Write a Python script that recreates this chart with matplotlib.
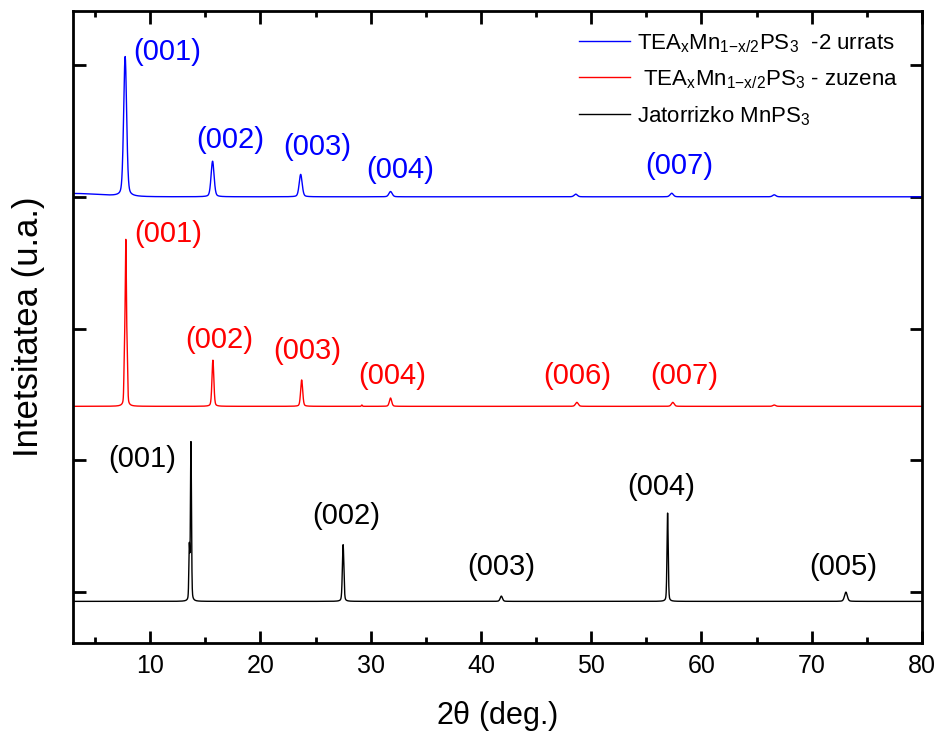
import numpy as np
import matplotlib
matplotlib.use('Agg')
from matplotlib import pyplot as plt
from matplotlib.ticker import MultipleLocator

plt.rcParams['font.family'] = ['Liberation Sans', 'DejaVu Sans']
plt.rcParams['mathtext.fontset'] = 'custom'
plt.rcParams['mathtext.rm'] = 'Liberation Sans'
plt.rcParams['mathtext.default'] = 'regular'

# peak lists: 2theta position, height above baseline, fwhm (deg)
blue_pos = [7.73, 15.66, 23.65, 31.8, 48.6, 57.3, 66.6]
blue_amp = [1.06, 0.27, 0.17, 0.04, 0.02, 0.027, 0.015]
blue_fwhm = [0.32, 0.32, 0.32, 0.35, 0.35, 0.35, 0.35]
blue_base = 3.0

red_pos = [7.66, 7.79, 7.92, 15.69, 23.74, 29.2, 31.8, 48.7, 57.4, 66.6]
red_amp = [0.3, 1.24, 0.3, 0.35, 0.20, 0.01, 0.063, 0.03, 0.03, 0.01]
red_fwhm = [0.1, 0.14, 0.1, 0.2, 0.22, 0.1, 0.25, 0.3, 0.3, 0.3]
red_base = 1.41

black_pos = [13.55, 13.7, 27.5, 41.85, 56.93, 73.1]
black_amp = [0.4, 1.2, 0.43, 0.04, 0.67, 0.07]
black_fwhm = [0.1, 0.11, 0.16, 0.25, 0.13, 0.3]
black_base = -0.07

# hkl labels: (text, 2theta, y)
blue_labels = [('(001)', 11.5, 4.095), ('(002)', 17.22, 3.43), ('(003)', 25.17, 3.38),
               ('(004)', 32.71, 3.20), ('(007)', 57.96, 3.23)]
red_labels = [('(001)', 11.63, 2.72), ('(002)', 16.27, 1.91), ('(003)', 24.26, 1.83),
              ('(004)', 31.98, 1.64), ('(006)', 48.69, 1.64), ('(007)', 58.41, 1.64)]
black_labels = [('(001)', 9.32, 1.01), ('(002)', 27.76, 0.58), ('(003)', 41.88, 0.19),
                ('(004)', 56.32, 0.80), ('(005)', 72.85, 0.19)]

tth = np.arange(3.0, 80.0, 0.01)


def patroia(pos, amp, fwhm, base):
    y = np.full_like(tth, base)
    for p, a, w in zip(pos, amp, fwhm):
        s = w / 2.3548
        g = np.exp(-0.5 * ((tth - p) / s) ** 2)
        l = 1.0 / (1.0 + ((tth - p) / (w / 2)) ** 2)
        y += a * (0.7 * g + 0.3 * l)
    return y


blue = patroia(blue_pos, blue_amp, blue_fwhm, blue_base)
# small rise at low angle
blue += 0.025 * np.exp(-0.5 * ((tth - 3.0) / 2.5) ** 2)
red = patroia(red_pos, red_amp, red_fwhm, red_base)
black = patroia(black_pos, black_amp, black_fwhm, black_base)

fig = plt.figure(figsize=(9.43, 7.42), dpi=100)
ax = fig.add_axes([0.0774, 0.1334, 0.9003, 0.8518])

ax.plot(tth, blue, color='#0000ff', lw=1.0,
        label=r'TEA$_x$Mn$_{1{-}x/2}$PS$_3$  -2 urrats')
ax.plot(tth, red, color='#ff0000', lw=1.0,
        label=r' TEA$_x$Mn$_{1{-}x/2}$PS$_3$ - zuzena')
ax.plot(tth, black, color='black', lw=1.0, label=r'Jatorrizko MnPS$_3$')

for testua, x, y in blue_labels:
    ax.text(x, y, testua, color='#0000ff', fontsize=21, ha='center', va='center')
for testua, x, y in red_labels:
    ax.text(x, y, testua, color='#ff0000', fontsize=21, ha='center', va='center')
for testua, x, y in black_labels:
    ax.text(x, y, testua, color='black', fontsize=21, ha='center', va='center')

ax.set_xlim(3, 80)
ax.set_ylim(-0.386, 4.41)
ax.xaxis.set_major_locator(MultipleLocator(10))
ax.xaxis.set_minor_locator(MultipleLocator(5))
ax.set_yticks([0, 1, 2, 3, 4])
ax.set_yticklabels([])
ax.tick_params(which='both', direction='in', top=True, right=True, width=2)
ax.tick_params(which='major', length=9, labelsize=18, pad=8)
ax.tick_params(which='minor', length=4.5)
for sp in ax.spines.values():
    sp.set_linewidth(2)

ax.set_xlabel(r'2$\theta$ (deg.)', fontsize=22, labelpad=15)
ax.set_ylabel('Intetsitatea (u.a.)', fontsize=25, labelpad=12)

ax.legend(loc='upper left', bbox_to_anchor=(0.572, 0.998), frameon=False,
          fontsize=16, handlelength=2.3, handletextpad=0.35, labelspacing=0.6)

fig.savefig('out.png', dpi=100)
